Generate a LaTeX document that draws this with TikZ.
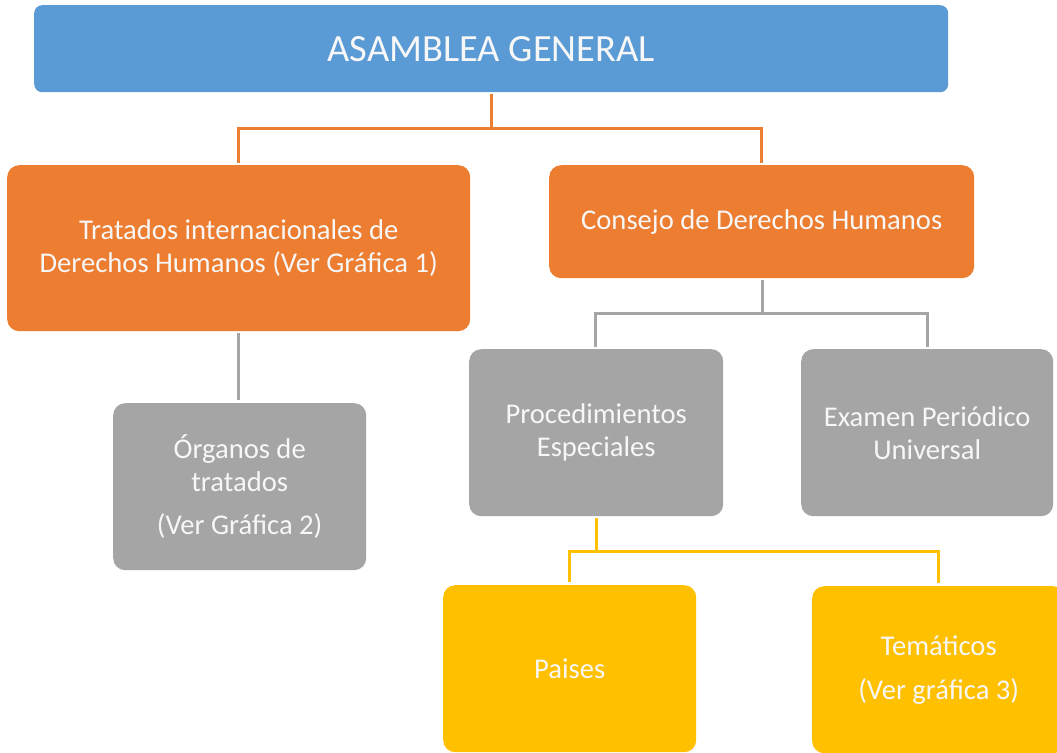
\documentclass[tikz,border=0pt]{standalone}
\usepackage{fontspec}
\setmainfont{Carlito}
\definecolor{cblue}{HTML}{5B9BD5}
\definecolor{corange}{HTML}{ED7D31}
\definecolor{cgray}{HTML}{A5A5A5}
\definecolor{cyellow}{HTML}{FFC000}
\definecolor{ctext}{HTML}{F7F7F7}
\begin{document}
\begin{tikzpicture}[x=1pt,y=-1pt,
  box/.style={draw=none, rounded corners=12pt, anchor=north west, align=center,
    text=ctext, inner sep=0pt, font=\fontsize{28.6}{33}\selectfont},
  link/.style={line width=3pt, line cap=butt}]
\clip (0,0) rectangle (1057,752);
\fill[white] (0,0) rectangle (1057,752);
% boxes
\node[box, fill=cblue, rounded corners=8pt, minimum width=914pt, minimum height=87pt,
  font=\fontsize{38.5}{44}\selectfont] (asm) at (34,5) {ASAMBLEA GENERAL};
\node[box, fill=corange, minimum width=463pt, minimum height=166pt] (trat) at (7,165)
  {Tratados internacionales de\\Derechos Humanos (Ver Gráfica 1)};
\node[box, fill=corange, minimum width=425pt, minimum height=113pt] (cons) at (549,165)
  {Consejo de Derechos Humanos};
\node[box, fill=cgray, minimum width=253pt, minimum height=167pt] (org) at (113,403)
  {Órganos de\\tratados\\[10pt](Ver Gráfica 2)};
\node[box, fill=cgray, minimum width=254pt, minimum height=167pt] (proc) at (469,349)
  {Procedimientos\\Especiales};
\node[box, fill=cgray, minimum width=252pt, minimum height=167pt] (exam) at (801,349)
  {Examen Periódico\\Universal};
\node[box, fill=cyellow, minimum width=253pt, minimum height=167pt] (pais) at (443,585)
  {Paises};
\node[box, fill=cyellow, minimum width=253pt, minimum height=167pt] (tema) at (812,586)
  {Temáticos\\[11pt](Ver gráfica 3)};
% connectors
\coordinate (j1) at (491,128);
\coordinate (j2) at (762,313);
\coordinate (j3) at (596,551);
\draw[link, corange] ([yshift=-2pt]asm.south -| j1) -- (j1);
\draw[link, corange] (j1) -| ([yshift=2pt]trat.north);
\draw[link, corange] (j1) -| ([yshift=2pt]cons.north);
\draw[link, cgray] ([yshift=-2pt]trat.south) -- ([yshift=3pt]trat.south |- org.north);
\draw[link, cgray] ([yshift=-2pt]cons.south -| j2) -- (j2);
\draw[link, cgray] (j2) -| ([xshift=-1pt,yshift=2pt]proc.north);
\draw[link, cgray] (j2) -| ([yshift=2pt]exam.north);
\draw[link, cyellow] ([yshift=-2pt]proc.south -| j3) -- (j3);
\draw[link, cyellow] (j3) -| ([yshift=3pt]pais.north);
\draw[link, cyellow] (j3) -| ([xshift=-0.5pt,yshift=3pt]tema.north);
\end{tikzpicture}
\end{document}
